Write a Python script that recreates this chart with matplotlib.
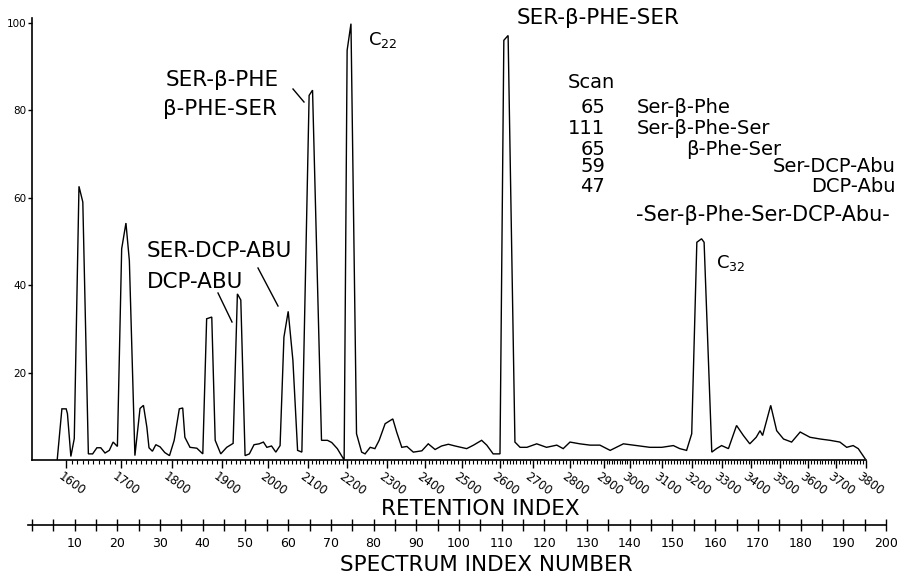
import matplotlib
matplotlib.use("Agg")
import matplotlib.pyplot as plt
from matplotlib.transforms import ScaledTranslation
from matplotlib.lines import Line2D

# ---------------- data ----------------
scan = [5.9, 7.0, 8.0, 8.3, 9.1, 9.9, 11.0, 11.9, 13.2, 14.2, 15.2, 16.1, 17.1, 18.1,
        19.0, 20.0, 21.0, 22.0, 22.8, 24.1, 25.3, 26.1, 26.9, 27.4, 28.2, 29.0, 30.0,
        31.1, 32.2, 33.3, 34.5, 35.3, 35.8, 37.0, 38.6, 40.0, 40.9, 42.1, 42.9, 44.2,
        45.6, 47.1, 48.1, 48.9, 49.9, 50.9, 52.0, 53.2, 54.2, 55.0, 56.1, 57.1, 58.1,
        59.0, 60.0, 61.1, 62.2, 63.2, 64.9, 65.7, 67.8, 69.2, 70.2, 71.5, 73.1, 73.8,
        74.7, 76.0, 77.2, 78.0, 79.2, 80.3, 81.3, 82.7, 84.5, 85.4, 86.6, 87.8, 89.3,
        91.3, 92.8, 94.4, 95.9, 97.5, 99.1, 101.8, 103.4, 105.3, 106.5, 108.0, 109.6,
        110.5, 111.5, 113.1, 114.3, 115.9, 118.2, 120.5, 122.9, 124.4, 126.0, 128.3,
        130.7, 133.0, 135.4, 138.5, 141.6, 144.7, 147.5, 150.2, 151.7, 153.3, 154.5,
        155.7, 156.8, 157.4, 159.2, 160.3, 161.5, 163.1, 165.0, 166.6, 168.1, 169.6,
        170.5, 171.1, 173.0, 174.4, 176.0, 177.9, 179.9, 182.2, 184.6, 186.9, 189.2,
        190.8, 192.3, 193.5, 195.1]
intensity = [0.0, 11.7, 11.7, 10.6, 0.8, 4.9, 62.6, 59.0, 1.4, 1.4, 2.8, 2.8, 1.6, 2.2,
             4.1, 3.1, 48.3, 54.2, 45.6, 1.0, 11.8, 12.5, 7.5, 2.8, 2.0, 3.5, 3.0,
             1.7, 1.0, 4.5, 11.7, 11.9, 5.2, 2.9, 2.7, 1.4, 32.3, 32.7, 4.5, 1.4,
             2.9, 3.8, 38.0, 36.6, 1.0, 1.4, 3.5, 3.7, 4.1, 2.9, 3.2, 1.8, 3.3,
             28.1, 34.0, 22.8, 2.2, 1.8, 83.4, 84.6, 4.5, 4.5, 4.0, 2.6, 0.0, 93.7,
             99.8, 6.0, 1.8, 1.4, 2.9, 2.6, 4.5, 8.3, 9.4, 6.4, 2.9, 3.1, 1.8,
             2.1, 3.7, 2.4, 3.2, 3.6, 3.2, 2.6, 3.4, 4.5, 3.4, 1.4, 1.4,
             96.0, 97.1, 4.1, 2.9, 2.9, 3.7, 2.9, 3.4, 2.6, 4.1, 3.7,
             3.4, 3.4, 2.2, 3.7, 3.3, 2.9, 2.9, 3.3, 2.6, 2.2, 6.0,
             49.8, 50.6, 49.8, 1.8, 2.6, 3.3, 2.6, 7.9, 5.6, 3.7, 5.2,
             6.7, 5.6, 12.5, 6.7, 4.8, 4.1, 6.4, 5.2, 4.8, 4.5, 4.1,
             2.9, 3.3, 2.6, 0.3]

# retention index calibration (tick value -> spectrum index number)
ri_values = [1600, 1700, 1800, 1900, 2000, 2100, 2200, 2300, 2400, 2500, 2600, 2700,
             2800, 2900, 3000, 3100, 3200, 3300, 3400, 3500, 3600, 3700, 3800]
ri_scan = [8.0, 20.8, 32.7, 44.4, 55.3, 64.6, 73.7, 83.1, 92.0, 100.6, 109.6, 117.3,
           126.0, 134.0, 140.0, 147.5, 154.5, 161.5, 168.5, 175.2, 181.8, 188.4, 195.2]

spec_ticks = list(range(0, 201, 5))
y_ticks = [20, 40, 60, 80, 100]

# ---------------- figure ----------------
W, H = 908, 578
fig = plt.figure(figsize=(W / 100, H / 100), dpi=100)
FONT = "DejaVu Sans"
plt.rcParams["font.family"] = FONT
plt.rcParams["mathtext.fontset"] = "dejavusans"

PX = 4.27  # pixels per spectrum index
x0 = 32
ax = fig.add_axes([x0 / W, 1 - 460 / H, (195.2 * PX) / W, (460 - 18) / H])
ax.set_xlim(0, 195.2)
ax.set_ylim(0, 101.1)
ax.plot(scan, intensity, color="black", lw=1.0, solid_joinstyle="miter")

for s in ["top", "right"]:
    ax.spines[s].set_visible(False)
for s in ["left", "bottom"]:
    ax.spines[s].set_linewidth(1.2)

ax.set_yticks(y_ticks)
ax.set_yticklabels([str(v) for v in y_ticks], fontsize=7.5)
ax.tick_params(axis="y", direction="out", length=3, width=1, pad=1)

ax.set_xticks(ri_scan)
ax.set_xticklabels([str(v) for v in ri_values], fontsize=8.5, rotation=-36,
                   ha="left", va="top", rotation_mode="anchor")
minor = []
for i in range(len(ri_scan) - 1):
    for k in range(1, 10):
        minor.append(ri_scan[i] + (ri_scan[i + 1] - ri_scan[i]) * k / 10)
ax.set_xticks(minor, minor=True)
ax.tick_params(axis="x", which="major", direction="out", length=5.5, width=1, pad=1.5)
ax.tick_params(axis="x", which="minor", direction="out", length=3, width=0.8)
off = ScaledTranslation(-3 / 100, 0, fig.dpi_scale_trans)
for lab in ax.get_xticklabels():
    lab.set_transform(lab.get_transform() + off)

# spectrum index axis
ax2 = fig.add_axes([(x0 - PX) / W, 1 - 525 / H, (201 * PX) / W, 0.0001])
ax2.set_xlim(-1, 200)
ax2.set_yticks([])
for s in ["top", "right", "left"]:
    ax2.spines[s].set_visible(False)
ax2.spines["bottom"].set_linewidth(1.2)
ax2.patch.set_visible(False)
ax2.set_xticks(spec_ticks)
ax2.set_xticklabels([str(v) if (v % 10 == 0 and v > 0) else "" for v in spec_ticks],
                    fontsize=9)
ax2.tick_params(axis="x", direction="inout", length=9, width=1, pad=4)

# ---------------- annotations ----------------
def ftext(px, py, s, size=15.5, ha="left"):
    fig.text(px / W, 1 - py / H, s, fontsize=size, ha=ha, va="center")

def fline(xa, ya, xb, yb):
    fig.add_artist(Line2D([xa / W, xb / W], [1 - ya / H, 1 - yb / H],
                          color="black", lw=1.0))

ftext(166, 80, "SER-β-PHE")
ftext(163, 109, "β-PHE-SER")
fline(293, 89, 304, 102)
ftext(147, 251, "SER-DCP-ABU")
ftext(147, 282, "DCP-ABU")
fline(218, 293, 232, 322)
fline(258, 268, 278, 306)
ftext(368, 40, "C$_{22}$", size=13)
ftext(517, 18, "SER-β-PHE-SER")
ftext(716, 263, "C$_{32}$", size=13)

ftext(568, 83, "Scan", size=14)
nums = ["65", "111", "65", "59", "47"]
rows = [107, 128, 149, 167, 186]
for n, r in zip(nums, rows):
    ftext(605, r, n, size=14, ha="right")
ftext(637, 107, "Ser-β-Phe", size=14)
ftext(637, 128, "Ser-β-Phe-Ser", size=14)
ftext(686, 149, "β-Phe-Ser", size=14)
ftext(896, 167, "Ser-DCP-Abu", size=14, ha="right")
ftext(896, 186, "DCP-Abu", size=14, ha="right")
ftext(763, 215, "-Ser-β-Phe-Ser-DCP-Abu-", size=15, ha="center")

ftext(480, 509, "RETENTION INDEX", size=15.5, ha="center")
ftext(486, 565, "SPECTRUM INDEX NUMBER", size=15.5, ha="center")

fig.savefig("out.png", dpi=100)
